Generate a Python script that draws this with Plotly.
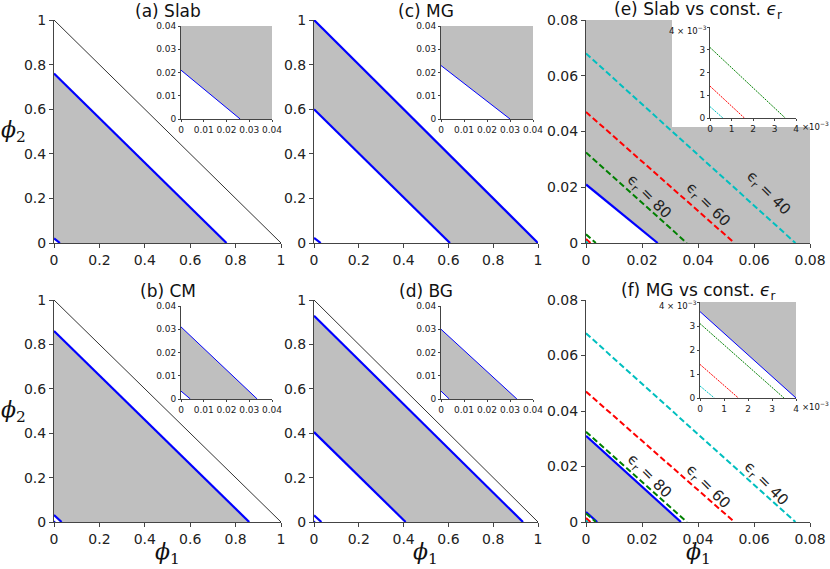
import plotly.graph_objects as go

W, H = 830, 569

# each boundary line is (phi2 at phi1 = 0, phi1 at phi2 = 0)
simplex = (1.0, 1.0)
slab_lines = [(0.021, 0.026), (0.76, 0.76)]
mg_lines = [(0.023, 0.030), (0.60, 0.607), (1.0, 1.0)]
cm_lines = [(0.0034, 0.0041), (0.031, 0.0335), (0.86, 0.86)]
bg_lines = [(0.0034, 0.0036), (0.030, 0.033), (0.405, 0.409), (0.929, 0.933)]

# constant permittivity lines
eps_values = ["80", "60", "40"]
eps_colors = ["#008000", "#ff0000", "#00bfbf"]
eps_big = [(0.0325, 0.036), (0.047, 0.0530), (0.068, 0.0748)]
eps_small = [(0.0031, 0.0035), (0.0014, 0.0016), (0.0005, 0.0006)]
slab_const_blue = [(0.021, 0.0256)]
mg_const_blue = [(0.0036, 0.0040), (0.0311, 0.0339)]

main_ticks = [0, 0.2, 0.4, 0.6, 0.8, 1.0]
main_text = ["0", "0.2", "0.4", "0.6", "0.8", "1"]
const_ticks = [0, 0.02, 0.04, 0.06, 0.08]
const_text = ["0", "0.02", "0.04", "0.06", "0.08"]
inset_ticks = [0, 0.01, 0.02, 0.03, 0.04]
inset_text = ["0", "0.01", "0.02", "0.03", "0.04"]
milli_ticks = [0, 0.001, 0.002, 0.003, 0.004]
milli_text_x = ["0", "1", "2", "3", "4"]
milli_text_y = ["0", "1", "2", "3", " "]

titles = ["(a) Slab", "(c) MG", "(e) Slab vs const. <i>ϵ</i><sub>r</sub>",
          "(b) CM", "(d) BG", "(f) MG vs const. <i>ϵ</i><sub>r</sub>"]

GRAY = "#bfbfbf"
BLUE = "#0000ff"

# pixel boxes (x0, x1, y0, y1) of the axes
cols = [(54, 281), (314, 538), (586, 810)]
rows = [(20, 243), (300, 522)]
main_boxes = [cols[c] + rows[r] for r in range(2) for c in range(3)]
inset_boxes = [(181, 272, 26, 119), (441, 533, 26, 119), (710, 796, 27, 118),
               (181, 272, 306, 399), (441, 533, 306, 399), (700, 796, 302, 398)]

fig = go.Figure()


def seg(line):
    return [0, line[1]], [line[0], 0]


def band(lo, hi):
    return [0, 0, hi[1], lo[1], 0], [lo[0], hi[0], 0, 0, lo[0]]


def above(lo, top):
    return [0, 0, top, top, lo[1], 0], [lo[0], top, top, 0, 0, lo[0]]


def fill(n, xy, color=GRAY):
    fig.add_trace(go.Scatter(x=xy[0], y=xy[1], fill="toself", fillcolor=color,
                             mode="lines", line=dict(width=0), hoverinfo="skip",
                             xaxis=f"x{n}", yaxis=f"y{n}", showlegend=False))


def line(n, ln, color=BLUE, width=2.2, dash="solid"):
    x, y = seg(ln)
    fig.add_trace(go.Scatter(x=x, y=y, mode="lines", hoverinfo="skip",
                             line=dict(color=color, width=width, dash=dash),
                             xaxis=f"x{n}", yaxis=f"y{n}", showlegend=False))


# (a) slab
fill(1, band(slab_lines[0], slab_lines[1]))
line(1, simplex, "#333333", 1)
for ln in slab_lines:
    line(1, ln)
fill(7, above(slab_lines[0], 0.04))
line(7, slab_lines[0], width=1)

# (c) MG
fill(2, band(mg_lines[1], mg_lines[2]))
for ln in mg_lines:
    line(2, ln)
fill(8, above(mg_lines[0], 0.04))
line(8, mg_lines[0], width=1)

# (b) CM
fill(4, band(cm_lines[1], cm_lines[2]))
line(4, simplex, "#333333", 1)
for ln in cm_lines:
    line(4, ln)
fill(10, band(cm_lines[0], cm_lines[1]))
for ln in cm_lines[:2]:
    line(10, ln, width=1)

# (d) BG
fill(5, band(bg_lines[2], bg_lines[3]))
line(5, simplex, "#333333", 1)
for ln in bg_lines:
    line(5, ln)
fill(11, band(bg_lines[0], bg_lines[1]))
for ln in bg_lines[:2]:
    line(11, ln, width=1)


def px_to_data(box, rng, px, py):
    x0, x1, y0, y1 = box
    return (rng * (px - x0) / (x1 - x0), rng * (y1 - py) / (y1 - y0))


# (e) slab vs const eps
fill(3, above(slab_const_blue[0], 0.08))
bx0, by0 = px_to_data(main_boxes[2], 0.08, 672, 127)
fill(3, ([bx0, bx0, 0.08, 0.08, bx0], [by0, 0.08, 0.08, by0, by0]), "white")
line(3, slab_const_blue[0])
for c, big, small in zip(eps_colors, eps_big, eps_small):
    line(3, big, c, 2, "6px,3px")
    line(3, small, c, 2, "6px,3px")
    line(9, small, c, 1, "2px,1px")

# (f) MG vs const eps
fill(6, band(mg_const_blue[0], mg_const_blue[1]))
for ln in mg_const_blue:
    line(6, ln)
fill(12, above(mg_const_blue[0], 0.004))
line(12, mg_const_blue[0], width=1)
for c, big, small in zip(eps_colors, eps_big, eps_small):
    line(6, big, c, 2, "6px,3px")
    line(6, small, c, 2, "6px,3px")
    line(12, small, c, 1, "2px,1px")


def set_axes(n, box, rng, tv, ttx, tty, size, tlen):
    x0, x1, y0, y1 = box
    common = dict(range=[0, rng], showgrid=False, zeroline=False, showline=True,
                  linecolor="#444444", linewidth=1, tickvals=tv, automargin=False,
                  tickfont=dict(size=size, color="#222222"), ticklen=tlen,
                  tickcolor="#444444", fixedrange=True)
    fig.update_layout(**{
        f"xaxis{n}": dict(domain=[x0 / W, x1 / W], anchor=f"y{n}", ticktext=ttx,
                          ticks="outside", **common),
        f"yaxis{n}": dict(domain=[1 - y1 / H, 1 - y0 / H], anchor=f"x{n}", ticktext=tty,
                          ticks="outside", **common),
    })


for i in range(6):
    if i in (2, 5):
        set_axes(i + 1, main_boxes[i], 0.08, const_ticks, const_text, const_text, 14, 4)
        set_axes(i + 7, inset_boxes[i], 0.004, milli_ticks, milli_text_x, milli_text_y, 9, 2)
    else:
        set_axes(i + 1, main_boxes[i], 1.0, main_ticks, main_text, main_text, 14, 4)
        set_axes(i + 7, inset_boxes[i], 0.04, inset_ticks, inset_text, inset_text, 9, 2)


def note(text, px, py, size, xanchor="center", family="DejaVu Sans"):
    return dict(text=text, x=px / W, y=1 - py / H, xref="paper", yref="paper",
                xanchor=xanchor, yanchor="middle", showarrow=False,
                font=dict(size=size, family=family, color="#111111"))


ann = []
for i, t in enumerate(titles):
    x0, x1, y0, y1 = main_boxes[i]
    ann.append(note(t, (x0 + x1) / 2, y0 - 9, 17))

for r in rows:
    ann.append(note("<i>ϕ</i><sub>2</sub>", 13, (r[0] + r[1]) / 2, 22, family="DejaVu Serif"))
for c in cols:
    ann.append(note("<i>ϕ</i><sub>1</sub>", (c[0] + c[1]) / 2, 553, 22, family="DejaVu Serif"))

# offset labels of the small insets
for i in (2, 5):
    x0, x1, y0, y1 = inset_boxes[i]
    ann.append(note("4 × 10<sup>−3</sup>", x0 - 1, y0 + 3, 8.5, xanchor="right"))
    ann.append(note("×10<sup>−3</sup>", x1 + 4, y1 + 8, 8.5, xanchor="left"))

label_pos_e = [(0.0225, 0.0168), (0.0436, 0.0139), (0.0653, 0.0178)]
label_pos_f = [(0.0228, 0.0165), (0.0436, 0.0129), (0.0643, 0.0140)]
for n, pos in ((3, label_pos_e), (6, label_pos_f)):
    for v, (lx, ly) in zip(eps_values, pos):
        ann.append(dict(text=f"ϵ<sub>r</sub> = {v}", x=lx, y=ly, xref=f"x{n}",
                        yref=f"y{n}", xanchor="center", yanchor="middle",
                        showarrow=False, textangle=45,
                        font=dict(size=15, color="#222222")))

fig.update_layout(width=W, height=H,
                  margin=dict(l=0, r=0, t=0, b=0, pad=0, autoexpand=False),
                  paper_bgcolor="white", plot_bgcolor="white",
                  font=dict(family="DejaVu Sans"), annotations=ann, showlegend=False)

fig.write_html("out.html", config={"displayModeBar": False},
               post_script="document.body.style.margin = '0px';")
